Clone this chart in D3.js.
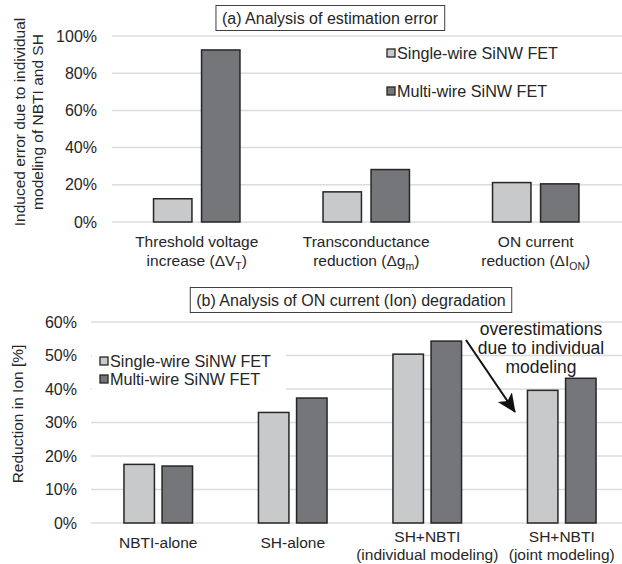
<!DOCTYPE html>
<html>
<head>
<meta charset="utf-8">
<script src="https://cdn.jsdelivr.net/npm/d3@7"></script>
<style>
  body { margin: 0; background: #fff; }
  svg { display: block; font-family: "Liberation Sans", Arial, sans-serif; }
</style>
</head>
<body>
<svg id="chart"></svg>
<script>
// data
const seriesNames = ["Single-wire SiNW FET", "Multi-wire SiNW FET"];

// (a) induced error, %
const errCategories = ["dVT", "dgm", "dION"];
const errLabels = [
  [["Threshold voltage"], ["increase (ΔV", "T", ")"]],
  [["Transconductance"], ["reduction (Δg", "m", ")"]],
  [["ON current"], ["reduction (ΔI", "ON", ")"]]
];
const errSingle = [12.5, 16.2, 21.2];
const errMulti = [92.5, 28.2, 20.5];
const errTicks = [0, 20, 40, 60, 80, 100];

// (b) reduction in Ion, %
const ionCategories = ["nbti", "sh", "ind", "joint"];
const ionLabels = [
  ["NBTI-alone"],
  ["SH-alone"],
  ["SH+NBTI", "(individual modeling)"],
  ["SH+NBTI", "(joint modeling)"]
];
const ionSingle = [17.5, 33.0, 50.4, 39.6];
const ionMulti = [17.0, 37.3, 54.3, 43.2];
const ionTicks = [0, 10, 20, 30, 40, 50, 60];

const width = 622, height = 564;
const colors = ["#c8c9cb", "#75767a"];
const textColor = "#262626";
const gridColor = "#dcdcdc";
const fs = 15.5;

const svg = d3.select("#chart").attr("width", width).attr("height", height);

function drawPanel(opt) {
  const g = svg.append("g");
  const x0 = d3.scaleBand().domain(opt.categories).range([opt.left, opt.right]);
  const bw = x0.bandwidth();
  const x1 = d3.scaleBand().domain([0, 1]).range([bw * 0.245, bw * 0.755]).paddingInner(0.2);
  const y = d3.scaleLinear().domain([0, opt.max]).range([opt.bottom, opt.top]);

  // grid
  g.append("g")
    .selectAll("line")
    .data(opt.ticks)
    .join("line")
    .attr("x1", opt.left)
    .attr("x2", width)
    .attr("y1", d => y(d))
    .attr("y2", d => y(d))
    .attr("stroke", gridColor)
    .attr("stroke-width", 1.5);

  // tick labels
  g.append("g")
    .selectAll("text")
    .data(opt.ticks)
    .join("text")
    .attr("x", opt.tickX)
    .attr("y", d => y(d))
    .attr("dy", "0.35em")
    .attr("text-anchor", "end")
    .attr("fill", textColor)
    .style("font-size", "16px")
    .text(d => d + "%");

  // legend (white box, drawn before bars)
  const lg = g.append("g");
  if (opt.legendBg) {
    lg.append("rect")
      .attr("x", opt.legendBg[0]).attr("y", opt.legendBg[1])
      .attr("width", opt.legendBg[2]).attr("height", opt.legendBg[3])
      .attr("fill", "#fff");
  }
  seriesNames.forEach((name, i) => {
    const ly = opt.legendY + i * opt.legendGap;
    lg.append("rect")
      .attr("x", opt.legendX).attr("y", ly - 4)
      .attr("width", 8).attr("height", 8)
      .attr("fill", colors[i])
      .attr("stroke", "#262626")
      .attr("stroke-width", 1.3);
    lg.append("text")
      .attr("x", opt.legendX + 10)
      .attr("y", ly)
      .attr("dy", "0.35em")
      .attr("fill", textColor)
      .style("font-size", "16.2px")
      .text(name);
  });

  // bars
  const rows = opt.categories.map((c, i) => ({ c, vals: [opt.single[i], opt.multi[i]] }));
  g.append("g")
    .selectAll("g")
    .data(rows)
    .join("g")
    .attr("transform", d => `translate(${x0(d.c)},0)`)
    .selectAll("rect")
    .data(d => d.vals.map((v, k) => ({ v, k })))
    .join("rect")
    .attr("x", d => x1(d.k))
    .attr("y", d => y(d.v))
    .attr("width", x1.bandwidth())
    .attr("height", d => y(0) - y(d.v))
    .attr("fill", d => colors[d.k])
    .attr("stroke", "#262626")
    .attr("stroke-width", 1.5);

  // title box
  const box = g.append("rect");
  const tt = g.append("text")
    .attr("x", opt.titleX)
    .attr("y", opt.titleY)
    .attr("dy", "0.35em")
    .attr("text-anchor", "middle")
    .attr("fill", textColor)
    .style("font-size", "16px")
    .text(opt.title);
  const bb = tt.node().getBBox();
  box
    .attr("x", bb.x - 6).attr("y", opt.titleY - 12.5)
    .attr("width", bb.width + 12).attr("height", 25)
    .attr("fill", "#fff")
    .attr("stroke", "#404040")
    .attr("stroke-width", 1);

  return { x0, y };
}

// ---- panel (a)
const a = drawPanel({
  categories: errCategories, single: errSingle, multi: errMulti,
  left: 112, right: 620.5, top: 36, bottom: 222, max: 100, ticks: errTicks,
  tickX: 97, legendX: 387, legendY: 53, legendGap: 38,
  title: "(a) Analysis of estimation error", titleX: 330, titleY: 18
});

errLabels.forEach((lines, i) => {
  const cx = a.x0(errCategories[i]) + a.x0.bandwidth() / 2;
  lines.forEach((parts, j) => {
    const t = svg.append("text")
      .attr("x", cx)
      .attr("y", 242 + j * 19)
      .attr("dy", "0.35em")
      .attr("text-anchor", "middle")
      .attr("fill", textColor)
      .style("font-size", fs + "px");
    t.append("tspan").text(parts[0]);
    if (parts.length > 1) {
      t.append("tspan").attr("dy", 4).style("font-size", "10.5px").text(parts[1]);
      t.append("tspan").attr("dy", -4).text(parts[2]);
    }
  });
});

svg.append("text")
  .attr("transform", "translate(20,122) rotate(-90)")
  .attr("text-anchor", "middle")
  .attr("dy", "0.35em")
  .attr("fill", textColor)
  .style("font-size", fs + "px")
  .text("Induced error due to individual");
svg.append("text")
  .attr("transform", "translate(38,122) rotate(-90)")
  .attr("text-anchor", "middle")
  .attr("dy", "0.35em")
  .attr("fill", textColor)
  .style("font-size", fs + "px")
  .text("modeling of NBTI and SH");

// ---- panel (b)
const b = drawPanel({
  categories: ionCategories, single: ionSingle, multi: ionMulti,
  left: 91, right: 629, top: 322, bottom: 523, max: 60, ticks: ionTicks,
  tickX: 77, legendX: 100, legendY: 361, legendGap: 18, legendBg: [92, 340, 194, 55],
  title: "(b) Analysis of ON current (Ion) degradation", titleX: 351, titleY: 300
});

ionLabels.forEach((lines, i) => {
  const cx = b.x0(ionCategories[i]) + b.x0.bandwidth() / 2;
  const y0 = lines.length === 1 ? 543 : 537;
  lines.forEach((line, j) => {
    svg.append("text")
      .attr("x", cx)
      .attr("y", y0 + j * 18)
      .attr("dy", "0.35em")
      .attr("text-anchor", "middle")
      .attr("fill", textColor)
      .style("font-size", fs + "px")
      .text(line);
  });
});

svg.append("text")
  .attr("transform", "translate(18,414) rotate(-90)")
  .attr("text-anchor", "middle")
  .attr("dy", "0.35em")
  .attr("fill", textColor)
  .style("font-size", fs + "px")
  .text("Reduction in Ion [%]");

// annotation
const note = ["overestimations", "due to individual", "modeling"];
note.forEach((line, i) => {
  svg.append("text")
    .attr("x", 541)
    .attr("y", 329 + i * 19)
    .attr("dy", "0.35em")
    .attr("text-anchor", "middle")
    .attr("fill", "#1a1a1a")
    .style("font-size", "17.5px")
    .text(line);
});

svg.append("defs").append("marker")
  .attr("id", "arrow")
  .attr("viewBox", "0 0 10 10")
  .attr("refX", 9.5).attr("refY", 5)
  .attr("markerWidth", 19).attr("markerHeight", 19)
  .attr("markerUnits", "userSpaceOnUse")
  .attr("orient", "auto")
  .append("path")
  .attr("d", "M0,0.5 L10,5 L0,9.5 L2.5,5 Z")
  .attr("fill", "#111");

svg.append("line")
  .attr("x1", 466).attr("y1", 340)
  .attr("x2", 515).attr("y2", 412)
  .attr("stroke", "#111")
  .attr("stroke-width", 2)
  .attr("marker-end", "url(#arrow)");
</script>
</body>
</html>
